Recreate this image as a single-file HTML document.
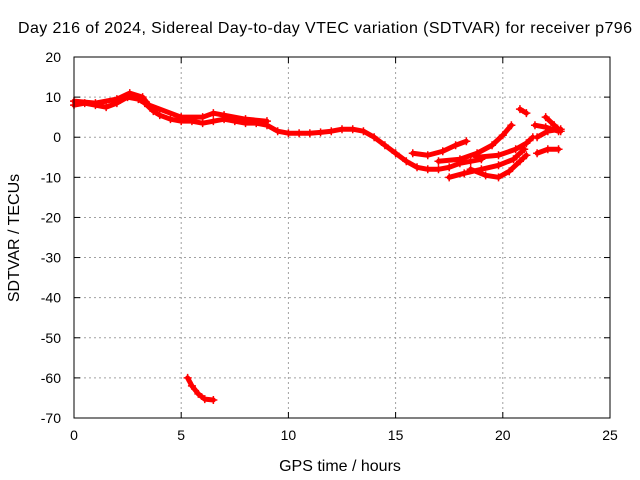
<!DOCTYPE html>
<html><head><meta charset="utf-8"><style>
body{margin:0;background:#fff}
svg{display:block;font-family:"Liberation Sans",sans-serif;font-size:14px}
.t{font-size:16px}
</style></head><body>
<svg id="chart" width="640" height="480">
<text class="t" x="325" y="33" text-anchor="middle" textLength="614">Day 216 of 2024, Sidereal Day-to-day VTEC variation (SDTVAR) for receiver p796</text>
<text class="t" x="340" y="471" text-anchor="middle">GPS time / hours</text>
<text class="t" transform="translate(19,238) rotate(-90)" text-anchor="middle">SDTVAR / TECUs</text>
<g id="grid"></g><g id="series"></g><g id="axes"></g>
</svg>
<script>
const xTicks=[0,5,10,15,20,25];
const yTicks=[20,10,0,-10,-20,-30,-40,-50,-60,-70];
const trackMain=[[0,8],[0.5,8.5],[1,8],[1.5,7.5],[2,8.5],[2.5,10],[3,9.5],[3.3,8.5],[3.7,6.5],[4,5.5],[4.5,4.5],[5,4],[5.5,4],[6,3.5],[6.5,4],[7,4.5],[7.5,4],[8,3.5],[8.5,3.5],[9,3],[9.5,1.5],[10,1],[10.5,1],[11,1],[11.5,1.2],[12,1.5],[12.5,2],[13,2],[13.5,1.5],[14,0],[14.5,-2],[15,-4],[15.5,-6],[16,-7.5],[16.5,-8],[17,-8],[17.5,-7.5],[18,-6.5],[18.5,-6],[19,-5.5]];
const trackUpper=[[0,9],[1,8.5],[2,9.5],[2.6,11],[3.2,10],[3.5,8],[5,5],[6,5],[6.5,6],[7,5.5],[8,4.5],[9,4]];
const trackA=[[15.8,-4],[16.5,-4.5],[17.2,-3.5],[17.8,-2],[18.3,-1]];
const trackB=[[17,-6],[18,-5.5],[18.8,-4],[19.5,-2],[20,0.5],[20.4,3]];
const trackC=[[17.5,-10],[18.2,-9],[19,-8],[19.8,-7],[20.5,-5.5],[21,-3]];
const trackD=[[18.5,-8],[19.2,-9.5],[19.8,-10],[20.3,-8.5],[20.8,-6],[21.1,-4.5]];
const trackE=[[18.8,-5],[19.8,-4.5],[20.6,-3],[21.1,-1.5],[21.4,0]];
const trackF=[[20.8,7],[21.1,6]];
const trackG=[[21.5,3],[22,2.5],[22.6,1.5]];
const trackH=[[21.6,0],[22.1,1.5],[22.7,2]];
const trackI=[[22,5],[22.4,3],[22.7,1.5]];
const trackJ=[[21.6,-4],[22.1,-3],[22.6,-3]];
const trackOut=[[5.3,-60],[5.5,-62],[5.8,-64],[6.1,-65.3],[6.5,-65.5]];
const allTracks=[trackMain,trackUpper,trackA,trackB,trackC,trackD,trackE,trackF,trackG,trackH,trackI,trackJ,trackOut];
const L=74,R=610,T=57,B=418;
const sx=v=>L+(v-0)/25*(R-L), sy=v=>T+(20-v)/90*(B-T);
const NS='http://www.w3.org/2000/svg';
function mk(tag,attrs,parent){const e=document.createElementNS(NS,tag);for(const k in attrs)e.setAttribute(k,attrs[k]);parent.appendChild(e);return e;}
const grid=document.getElementById('grid'),axes=document.getElementById('axes'),ser=document.getElementById('series');
xTicks.forEach(t=>{
 const x=sx(t);
 if(t>0&&t<25){const g=mk('line',{x1:x,x2:x,y1:T,y2:B,stroke:'#a0a0a0','stroke-dasharray':'2,3'},grid);}
 mk('line',{x1:x,x2:x,y1:B,y2:B-6,stroke:'#000'},axes);mk('line',{x1:x,x2:x,y1:T,y2:T+6,stroke:'#000'},axes);
 const tx=mk('text',{x:x,y:B+22,'text-anchor':'middle'},axes);tx.textContent=t;
 
});
yTicks.forEach(t=>{
 const y=sy(t);
 if(t<20&&t>-70){const g=mk('line',{x1:L,x2:R,y1:y,y2:y,stroke:'#a0a0a0','stroke-dasharray':'2,3'},grid);}
 mk('line',{x1:L,x2:L+6,y1:y,y2:y,stroke:'#000'},axes);mk('line',{x1:R,x2:R-6,y1:y,y2:y,stroke:'#000'},axes);
 const tx=mk('text',{x:L-13,y:y+5,'text-anchor':'end'},axes);tx.textContent=t;
 
});
const fr=mk('rect',{x:L,y:T,width:R-L,height:B-T,fill:'none',stroke:'#000'},axes);

allTracks.forEach(tr=>{
 const pl=mk('polyline',{points:tr.map(p=>sx(p[0])+','+sy(p[1])).join(' '),fill:'none',stroke:'#f00','stroke-width':5,'stroke-linejoin':'round','stroke-linecap':'round'},ser);
 
 tr.forEach(p=>{
  const x=sx(p[0]),y=sy(p[1]);
  const m=mk('path',{d:`M${x-4},${y}h8M${x},${y-4}v8`,stroke:'#f00','stroke-width':1.5},ser);
  
 });
});
</script>
</body></html>
